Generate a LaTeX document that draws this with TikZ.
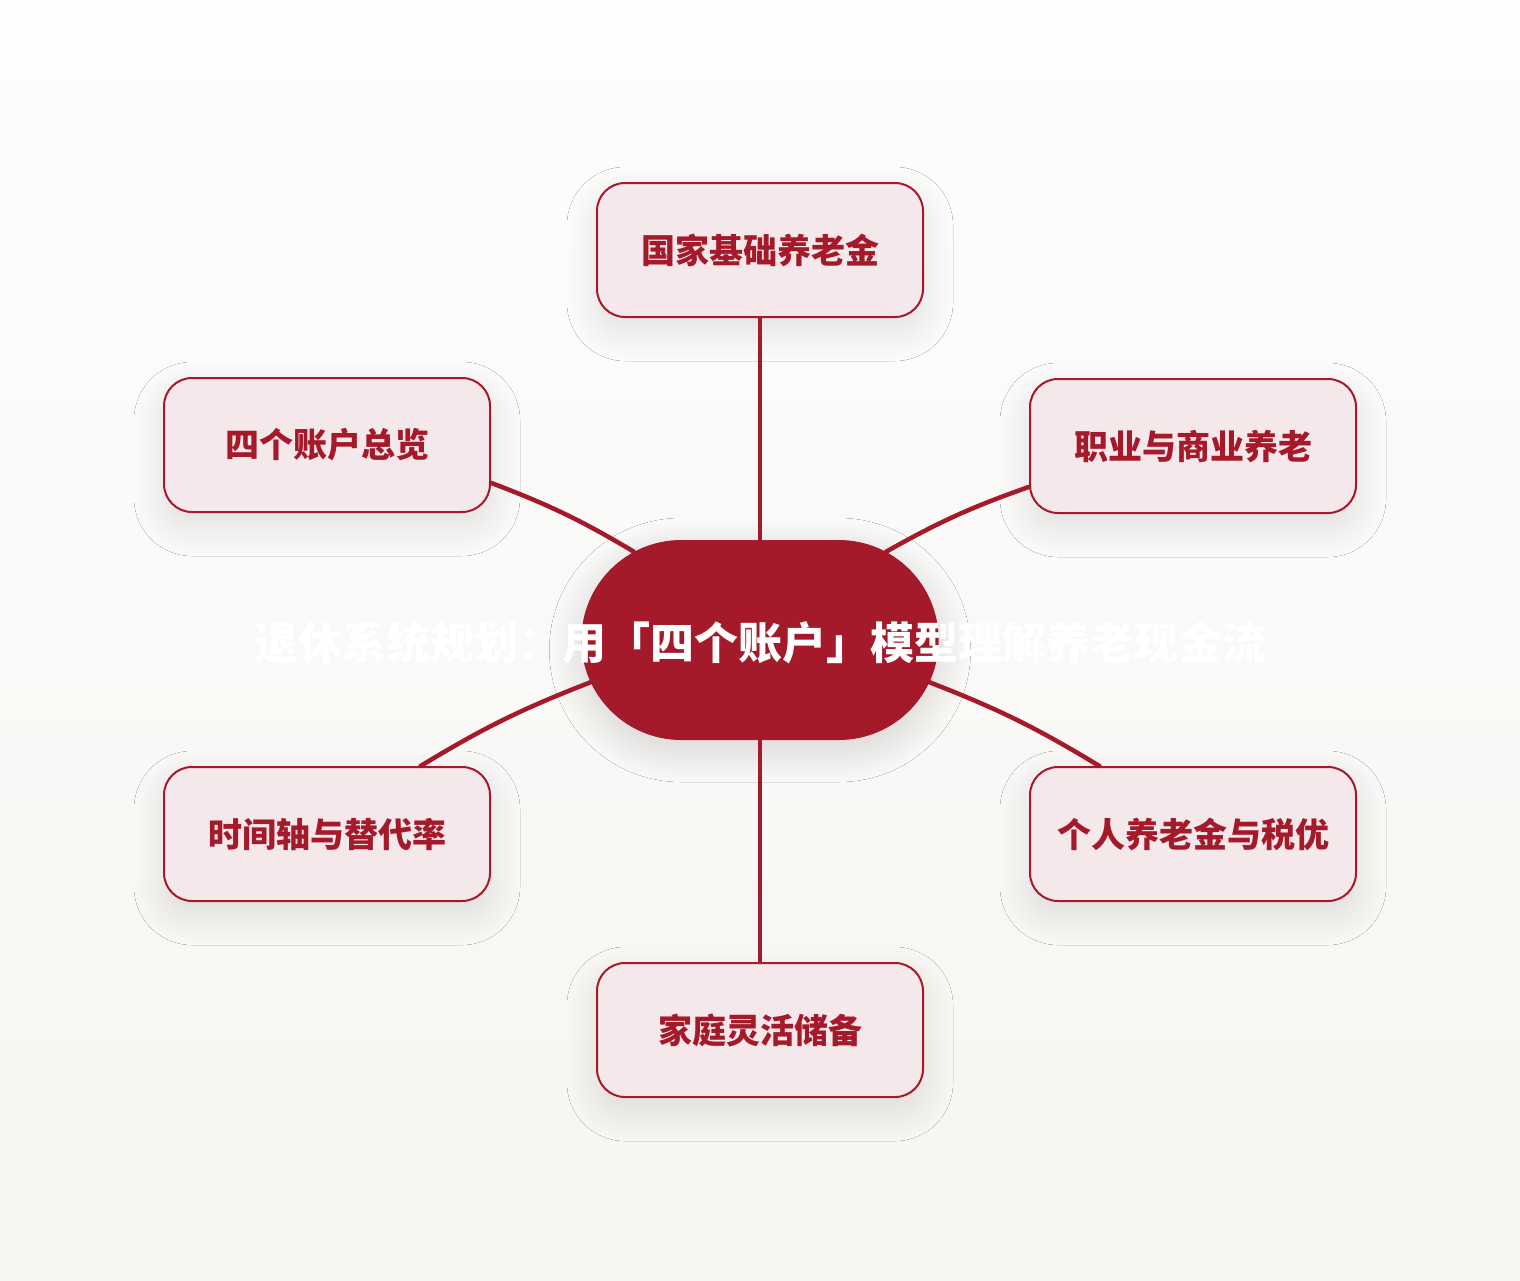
\documentclass[tikz,border=0pt]{standalone}
\usepackage{fontspec}
\newfontfamily\cjk{Noto Sans CJK SC}
\usetikzlibrary{shapes.misc,shadows.blur}
\definecolor{rojo}{HTML}{A51A2A}
\definecolor{rosa}{HTML}{F5E8EB}
\definecolor{fondoA}{HTML}{FDFDFD}
\definecolor{fondoB}{HTML}{F7F5F1}

\begin{document}
\begin{tikzpicture}[line cap=round,line join=round,x=1pt,y=-1pt,
		cuenta/.style={draw=rojo,line width=2pt,fill=rosa,rounded corners=28pt,
			minimum width=326pt,minimum height=134pt,text=rojo,
			font=\cjk\bfseries\fontsize{34}{40}\selectfont,
			blur shadow={shadow xshift=0pt,shadow yshift=-14pt,shadow blur radius=30pt,
				shadow blur steps=20,shadow opacity=11}},
		centro/.style={rounded rectangle,fill=rojo,minimum width=364pt,minimum height=200pt,
			blur shadow={shadow xshift=0pt,shadow yshift=-10pt,shadow blur radius=32pt,
				shadow blur steps=20,shadow opacity=15}},
		titulo/.style={text=white,font=\cjk\bfseries\fontsize{44}{52}\selectfont},
		enlace/.style={draw=rojo,line width=4.5pt,bend angle=5}]
	\useasboundingbox (0,0) rectangle (1520,1280);
	%%%% FONDO
	\shade[top color=fondoA,bottom color=fondoB] (0,0) rectangle (1520,1280);
	
	%%%% CENTRO
	\node[centro] (hub) at (760,640) {};
	
	%%%% CUENTAS
	\node[cuenta] (top) at (760,250) {国家基础养老金};
	\node[cuenta] (ul) at (327,445) {四个账户总览};
	\node[cuenta] (ur) at (1193,446) {职业与商业养老};
	\node[cuenta] (ll) at (327,834) {时间轴与替代率};
	\node[cuenta] (lr) at (1193,834) {个人养老金与税优};
	\node[cuenta] (bot) at (760,1030) {家庭灵活储备};
	
	%%%% ENLACES
	\draw[enlace] (hub.north) -- (top.south);
	\draw[enlace] (hub.south) -- (bot.north);
	\draw[enlace] (hub.145) to[bend right] (ul.-13);
	\draw[enlace] (hub.35) to[bend left] (ur.194);
	\draw[enlace] (hub.194) to[bend right] (ll.36);
	\draw[enlace] (hub.-14) to[bend left] (lr.144);
	
	%TITULO
	\node[titulo] (title) at ([yshift=-3pt]hub.center) {退休系统规划：用「四个账户」模型理解养老现金流};
\end{tikzpicture}
\end{document}
